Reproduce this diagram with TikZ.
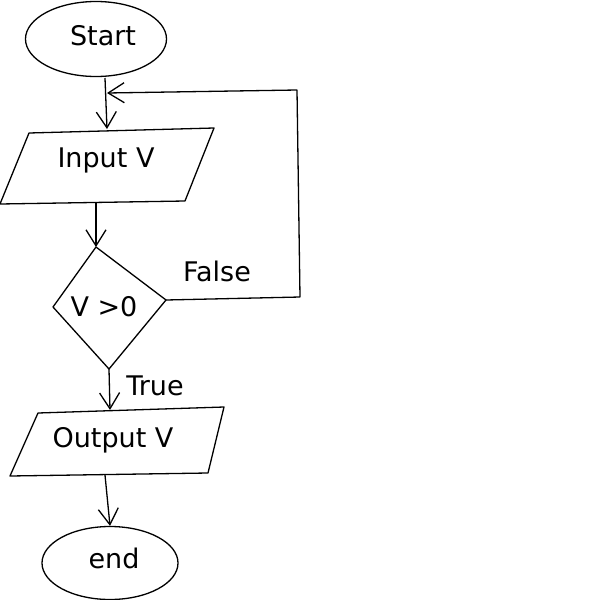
\documentclass[tikz,border=0pt]{standalone}
\usepackage{fontspec}
\setmainfont{DejaVu Sans}
\usetikzlibrary{arrows.meta,shapes.geometric}
\begin{document}
\begin{tikzpicture}[x=1pt,y=-1pt, line width=1.3pt, line join=round,
  shapeline/.style={draw=black},
  conn/.style={draw=black,-{Straight Barb[length=16pt,width=20pt,line width=1.3pt]}},
  lbl/.style={font=\fontsize{27}{32}\selectfont, inner sep=0pt}]
\useasboundingbox (0,0) rectangle (600,600);
% start
\node[shapeline, ellipse, minimum width=141pt, minimum height=75pt, inner sep=0pt] (start) at (96,39) {};
\node[lbl] (starttext) at (103,36) {Start};
% input
\coordinate (in1) at (29,133);
\coordinate (in2) at (214,128);
\coordinate (in3) at (185,201);
\coordinate (in4) at (0,204);
\draw[shapeline] (in1) -- (in2) -- (in3) -- (in4) -- cycle;
\node[lbl] (intext) at (106,160) {Input V};
\coordinate (inTop) at (107,129);
\coordinate (inBot) at (96,203);
% decision
\coordinate (dT) at (96,247);
\coordinate (dR) at (166,300);
\coordinate (dB) at (109,369);
\coordinate (dL) at (53,307);
\draw[shapeline] (dT) -- (dR) -- (dB) -- (dL) -- cycle;
\node[lbl] (dtext) at (104,307) {V >0};
% output
\coordinate (o1) at (38,413);
\coordinate (o2) at (224,407);
\coordinate (o3) at (208,473);
\coordinate (o4) at (10,476);
\draw[shapeline] (o1) -- (o2) -- (o3) -- (o4) -- cycle;
\node[lbl] (otext) at (113,440) {Output V};
\coordinate (oTop) at (110,410);
\coordinate (oBot) at (105,475);
% end
\node[shapeline, ellipse, minimum width=136pt, minimum height=73pt, inner sep=0pt] (stop) at (110,563) {};
\node[lbl] (stoptext) at (114,558) {end};
% loop corners
\coordinate (c1) at (300,297);
\coordinate (c2) at (297,90);
\coordinate (loopEnd) at (107,93);
\coordinate (startBot) at (105,78);
% connectors
\draw[conn] (startBot) -- (inTop);
\draw[conn] (inBot) -- (dT);
\draw[conn] (dR) -- (c1) -- (c2) -- (loopEnd);
\draw[conn] (dB) -- (oTop);
\draw[conn] (oBot) -- (stop.north);
% edge labels
\node[lbl] (falsetext) at (217,271) {False};
\node[lbl] (truetext) at (155,386) {True};
\end{tikzpicture}
\end{document}
